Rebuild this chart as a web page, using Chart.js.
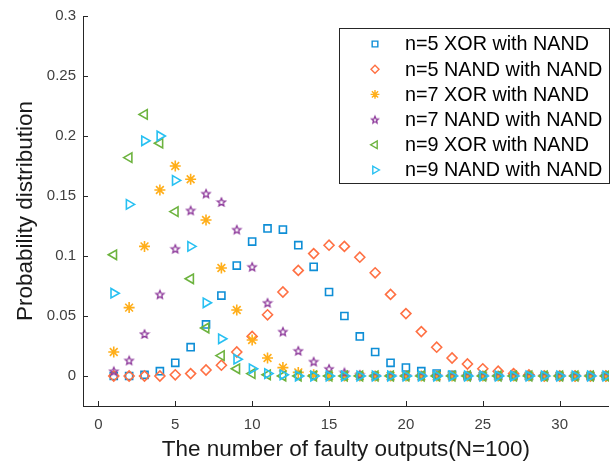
<!DOCTYPE html>
<html>
<head>
<meta charset="utf-8">
<script src="https://cdn.jsdelivr.net/npm/chart.js@4.4.1/dist/chart.umd.min.js"></script>
<style>
  html, body { margin: 0; padding: 0; background: #fff; }
  canvas { display: block; }
</style>
</head>
<body>
<canvas id="myChart" width="616" height="466"></canvas>
<script>
// x = number of faulty outputs, 1..33
let faults = [];
for (let k = 1; k <= 33; k++) faults.push(k);

let labels = ['n=5 XOR with NAND', 'n=5 NAND with NAND', 'n=7 XOR with NAND',
              'n=7 NAND with NAND', 'n=9 XOR with NAND', 'n=9 NAND with NAND'];

let n5Xor  = [0, 0, 0.001, 0.004, 0.011, 0.024, 0.043, 0.067, 0.092, 0.112, 0.123, 0.122, 0.109, 0.091, 0.070, 0.050, 0.033, 0.020, 0.011, 0.007, 0.004, 0.002, 0.001, 0, 0, 0, 0, 0, 0, 0, 0, 0, 0];
let n5Nand = [0, 0, 0, 0, 0.001, 0.002, 0.005, 0.009, 0.020, 0.033, 0.051, 0.070, 0.088, 0.102, 0.109, 0.108, 0.099, 0.086, 0.068, 0.052, 0.037, 0.024, 0.015, 0.010, 0.006, 0.004, 0.002, 0.001, 0, 0, 0, 0, 0];
let n7Xor  = [0.020, 0.057, 0.108, 0.155, 0.175, 0.164, 0.130, 0.090, 0.055, 0.030, 0.015, 0.007, 0.003, 0.001, 0, 0, 0, 0, 0, 0, 0, 0, 0, 0, 0, 0, 0, 0, 0, 0, 0, 0, 0];
let n7Nand = [0.004, 0.013, 0.035, 0.068, 0.106, 0.138, 0.152, 0.145, 0.122, 0.091, 0.061, 0.037, 0.021, 0.012, 0.006, 0.003, 0.001, 0, 0, 0, 0, 0, 0, 0, 0, 0, 0, 0, 0, 0, 0, 0, 0];
let n9Xor  = [0.101, 0.182, 0.218, 0.194, 0.137, 0.081, 0.040, 0.017, 0.006, 0.002, 0.001, 0, 0, 0, 0, 0, 0, 0, 0, 0, 0, 0, 0, 0, 0, 0, 0, 0, 0, 0, 0, 0, 0];
let n9Nand = [0.069, 0.143, 0.196, 0.200, 0.163, 0.108, 0.061, 0.031, 0.014, 0.006, 0.002, 0.001, 0, 0, 0, 0, 0, 0, 0, 0, 0, 0, 0, 0, 0, 0, 0, 0, 0, 0, 0, 0, 0];

let xTicks = [0, 5, 10, 15, 20, 25, 30];
let yTicks = [0, 0.05, 0.1, 0.15, 0.2, 0.25, 0.3];

let colors = ['#0E8ED6', '#FF7043', '#FFAE1A', '#8E3A9B', '#6DB33F', '#27C0F2'];

// pentagram marker (not built into Chart.js)
function pentagram(color, r) {
  let c = document.createElement('canvas');
  c.width = 12; c.height = 12;
  let g = c.getContext('2d');
  g.strokeStyle = color;
  g.lineWidth = 1.3;
  g.beginPath();
  for (let i = 0; i < 10; i++) {
    let rr = i % 2 === 0 ? r : r * 0.45;
    let a = -Math.PI / 2 + i * Math.PI / 5;
    let px = 6 + rr * Math.cos(a), py = 6.4 + rr * Math.sin(a);
    if (i === 0) g.moveTo(px, py); else g.lineTo(px, py);
  }
  g.closePath();
  g.stroke();
  return c;
}

let seriesData = [n5Xor, n5Nand, n7Xor, n7Nand, n9Xor, n9Nand];
let styles = [
  { pointStyle: 'rect', radius: 5, rotation: 0 },
  { pointStyle: 'rectRot', radius: 5, rotation: 0 },
  { pointStyle: 'star', radius: 5.5, rotation: 0 },
  { pointStyle: pentagram(colors[3], 4.3), radius: 5, rotation: 0 },
  { pointStyle: 'triangle', radius: 5.5, rotation: -90 },
  { pointStyle: 'triangle', radius: 5.5, rotation: 90 }
];
let legendStar = pentagram(colors[3], 3.6);

let datasets = seriesData.map((vals, i) => ({
  label: labels[i],
  data: vals.map((v, j) => ({ x: faults[j], y: v })),
  showLine: false,
  borderColor: colors[i],
  backgroundColor: 'rgba(0,0,0,0)',
  borderWidth: 1.6,
  pointStyle: styles[i].pointStyle,
  pointRadius: styles[i].radius,
  pointRotation: styles[i].rotation,
  order: 6 - i
}));

// inward tick marks + boxed legend
let extras = {
  id: 'extras',
  afterDraw(chart) {
    let ctx = chart.ctx;
    let xs = chart.scales.x, ys = chart.scales.y;
    let area = chart.chartArea;
    ctx.save();
    ctx.strokeStyle = '#262626';
    ctx.lineWidth = 1;
    ctx.beginPath();
    xTicks.forEach(v => {
      let px = Math.round(xs.getPixelForValue(v)) + 0.5;
      ctx.moveTo(px, area.bottom);
      ctx.lineTo(px, area.bottom - 5);
    });
    yTicks.forEach(v => {
      let py = Math.round(ys.getPixelForValue(v)) + 0.5;
      ctx.moveTo(area.left, py);
      ctx.lineTo(area.left + 5, py);
    });
    ctx.stroke();

    // legend
    let bx = 339.5, by = 28.5, bw = 270, bh = 155;
    ctx.fillStyle = '#fff';
    ctx.fillRect(bx, by, bw, bh);
    ctx.strokeStyle = '#262626';
    ctx.strokeRect(bx, by, bw, bh);
    ctx.font = '19.8px "Liberation Sans", Arial, sans-serif';
    ctx.textBaseline = 'middle';
    ctx.textAlign = 'left';
    chart.data.datasets.forEach((ds, i) => {
      let y = 44 + i * 25.2;
      ctx.strokeStyle = ds.borderColor;
      ctx.fillStyle = 'rgba(0,0,0,0)';
      ctx.lineWidth = 1.4;
      Chart.helpers.drawPoint(ctx, {
        pointStyle: i === 3 ? legendStar : ds.pointStyle,
        radius: ds.pointRadius * 0.8,
        rotation: ds.pointRotation,
        borderWidth: 1.4
      }, 375, y);
      ctx.fillStyle = '#000';
      ctx.fillText(ds.label, 405, y + 1);
    });
    ctx.restore();
  }
};

let tickFont = { family: '"Liberation Sans", Arial, sans-serif', size: 15 };
let titleFont = { family: '"Liberation Sans", Arial, sans-serif', size: 22.5 };

let ctx = document.getElementById('myChart').getContext('2d');
let myChart = new Chart(ctx, {
  type: 'scatter',
  data: { datasets: datasets },
  plugins: [extras],
  options: {
    responsive: false,
    animation: false,
    layout: { padding: { top: 14, right: 0, left: 0, bottom: 0 } },
    plugins: {
      legend: { display: false },
      tooltip: { enabled: false }
    },
    scales: {
      x: {
        type: 'linear',
        min: -1,
        max: 33.2,
        afterBuildTicks: s => { s.ticks = xTicks.map(v => ({ value: v })); },
        afterFit: s => { s.height = 60; },
        ticks: { color: '#404040', font: tickFont, padding: 10, maxRotation: 0 },
        grid: { display: true, drawOnChartArea: false, drawTicks: false },
        border: { display: true, color: '#262626', width: 1 },
        title: {
          display: true,
          text: 'The number of faulty outputs(N=100)',
          color: '#1a1a1a',
          font: titleFont,
          padding: { top: 0, bottom: 3 }
        }
      },
      y: {
        min: -0.025,
        max: 0.3,
        afterBuildTicks: s => { s.ticks = yTicks.map(v => ({ value: v })); },
        afterFit: s => { s.width = 83; },
        ticks: { color: '#404040', font: tickFont, padding: 7, callback: v => String(v) },
        grid: { display: true, drawOnChartArea: false, drawTicks: false },
        border: { display: true, color: '#262626', width: 1 },
        title: {
          display: true,
          text: 'Probability distribution',
          color: '#1a1a1a',
          font: titleFont,
          padding: { top: 12, bottom: 0 }
        }
      }
    }
  }
});
</script>
</body>
</html>
